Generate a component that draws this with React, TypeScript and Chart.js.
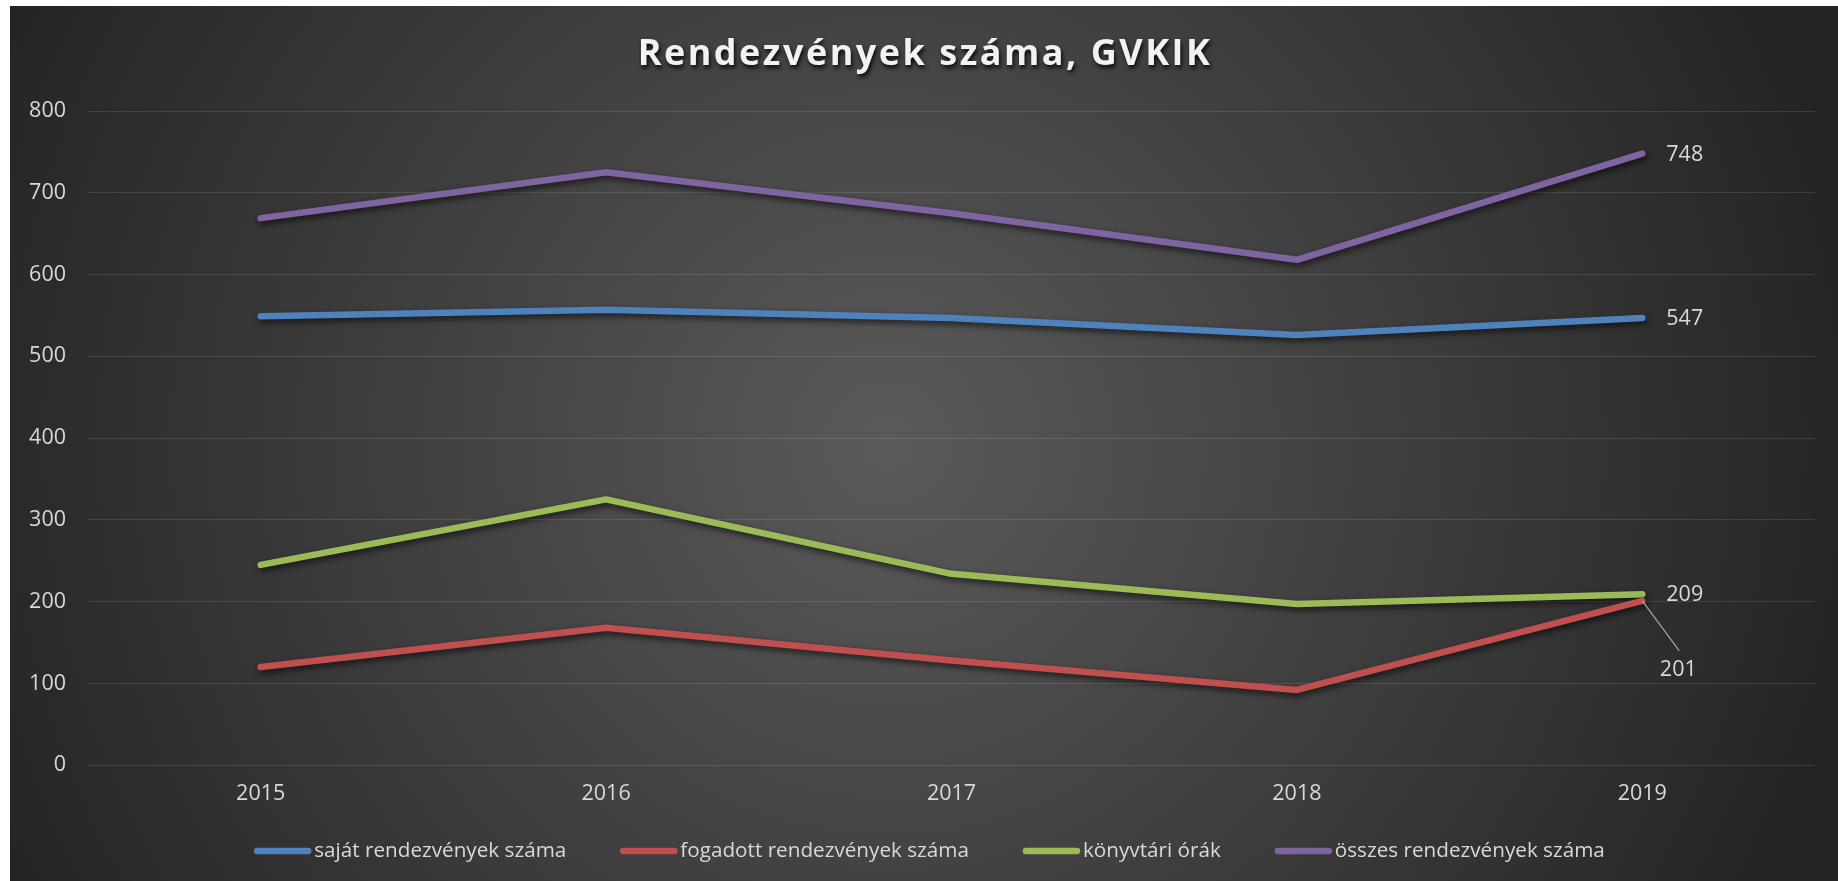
import React, { useEffect, useRef } from "react";
import { Chart, registerables } from "chart.js";

Chart.register(...registerables);

const titleText = "Rendezvények száma, GVKIK";
const categories = ["2015", "2016", "2017", "2018", "2019"];
const sajatRendezvenyek = [549, 557, 547, 526, 547];
const fogadottRendezvenyek = [120, 168, 128, 92, 201];
const konyvtariOrak = [245, 325, 234, 197, 209];
const osszesRendezvenyek = [669, 725, 675, 618, 748];
const seriesLabels = [
  "saját rendezvények száma",
  "fogadott rendezvények száma",
  "könyvtári órák",
  "összes rendezvények száma",
];
const seriesColors = ["#4F81BD", "#C0504D", "#9BBB59", "#8064A2"];
const yMin = 0;
const yMax = 800;
const yStep = 100;

const FONT = "'Open Sans', 'DejaVu Sans', sans-serif";
const TEXT_COLOR = "#d9d9d9";
const LABEL_SIZE = 21.5;
const LEGEND_SIZE = 20.7;

const backgroundPlugin = {
  id: "bgGradient",
  beforeDraw(chart: any) {
    const { ctx, width, height } = chart;
    ctx.save();
    const cx = width * 0.48;
    const cy = height / 2;
    const r = Math.sqrt(cx * cx + cy * cy);
    const g = ctx.createRadialGradient(cx, cy, 0, cx, cy, r);
    g.addColorStop(0, "#5a5a5a");
    g.addColorStop(1, "#242424");
    ctx.fillStyle = g;
    ctx.fillRect(0, 0, width, height);
    ctx.restore();
  },
};

const titlePlugin = {
  id: "customTitle",
  afterDraw(chart: any) {
    const { ctx, width } = chart;
    ctx.save();
    ctx.font = `bold 36px ${FONT}`;
    (ctx as any).letterSpacing = "2.5px";
    ctx.textAlign = "center";
    ctx.textBaseline = "middle";
    ctx.shadowColor = "rgba(0,0,0,0.85)";
    ctx.shadowBlur = 4;
    ctx.shadowOffsetX = 1.5;
    ctx.shadowOffsetY = 2.5;
    ctx.fillStyle = "#f2f2f2";
    ctx.fillText(titleText, width / 2 + 1, 49);
    ctx.restore();
  },
};

const shadowPlugin = {
  id: "lineShadow",
  beforeDatasetDraw(chart: any) {
    const ctx = chart.ctx;
    ctx.save();
    ctx.shadowColor = "rgba(0,0,0,0.65)";
    ctx.shadowBlur = 6;
    ctx.shadowOffsetX = 1.5;
    ctx.shadowOffsetY = 3;
  },
  afterDatasetDraw(chart: any) {
    chart.ctx.restore();
  },
};

const valueLabelPlugin = {
  id: "lastValueLabels",
  afterDatasetsDraw(chart: any) {
    const ctx = chart.ctx;
    ctx.save();
    ctx.font = `${LABEL_SIZE}px ${FONT}`;
    ctx.fillStyle = TEXT_COLOR;
    ctx.textBaseline = "middle";
    chart.data.datasets.forEach((ds: any, i: number) => {
      const meta = chart.getDatasetMeta(i);
      const last = meta.data.length - 1;
      const pt = meta.data[last];
      const value = String(ds.data[last]);
      if (i === 1) {
        ctx.strokeStyle = "#a6a6a6";
        ctx.lineWidth = 1.2;
        ctx.beginPath();
        ctx.moveTo(pt.x, pt.y);
        ctx.lineTo(pt.x + 37, pt.y + 50);
        ctx.stroke();
        ctx.textAlign = "center";
        ctx.fillText(value, pt.x + 36, pt.y + 69);
      } else {
        ctx.textAlign = "left";
        ctx.fillText(value, pt.x + 24, pt.y + 1);
      }
    });
    ctx.restore();
  },
};

const legendPlugin = {
  id: "customLegend",
  afterDraw(chart: any) {
    const { ctx, width } = chart;
    ctx.save();
    ctx.font = `${LEGEND_SIZE}px ${FONT}`;
    const lineLen = 57;
    const textGap = 3;
    const itemGap = 54;
    const items = chart.data.datasets.map((ds: any) => ({
      label: ds.label,
      color: ds.borderColor,
      w: ctx.measureText(ds.label).width,
    }));
    const total =
      items.reduce((s: number, it: any) => s + lineLen + textGap + it.w, 0) +
      itemGap * (items.length - 1);
    let x = width / 2 + 5.5 - total / 2;
    const y = 845;
    items.forEach((it: any) => {
      ctx.strokeStyle = it.color;
      ctx.lineWidth = 6.5;
      ctx.lineCap = "round";
      ctx.beginPath();
      ctx.moveTo(x + 3, y);
      ctx.lineTo(x + lineLen - 3, y);
      ctx.stroke();
      ctx.fillStyle = TEXT_COLOR;
      ctx.textAlign = "left";
      ctx.textBaseline = "middle";
      ctx.fillText(it.label, x + lineLen + textGap, y);
      x += lineLen + textGap + it.w + itemGap;
    });
    ctx.restore();
  },
};

export default function App() {
  const canvasRef = useRef<HTMLCanvasElement | null>(null);

  useEffect(() => {
    document.body.style.overflow = "hidden";
    const canvas = canvasRef.current;
    if (!canvas) return;
    const seriesData = [sajatRendezvenyek, fogadottRendezvenyek, konyvtariOrak, osszesRendezvenyek];
    const chart = new Chart(canvas, {
      type: "line",
      data: {
        labels: categories,
        datasets: seriesData.map((d, i) => ({
          label: seriesLabels[i],
          data: d,
          borderColor: seriesColors[i],
          backgroundColor: seriesColors[i],
          borderWidth: 6.5,
          borderCapStyle: "round",
          borderJoinStyle: "round",
          pointRadius: 0,
          pointHoverRadius: 0,
          tension: 0,
          fill: false,
        })),
      },
      options: {
        animation: false,
        responsive: true,
        maintainAspectRatio: false,
        events: [],
        layout: { padding: { top: 105, left: 0, right: 23, bottom: 58 } },
        plugins: {
          legend: { display: false },
          title: { display: false },
          tooltip: { enabled: false },
        },
        scales: {
          x: {
            offset: true,
            grid: { display: false, drawTicks: false },
            border: { display: false },
            ticks: {
              color: TEXT_COLOR,
              font: { family: FONT, size: LABEL_SIZE },
              padding: 16,
              maxRotation: 0,
            },
          },
          y: {
            min: yMin,
            max: yMax,
            grid: { color: "rgba(255,255,255,0.11)", lineWidth: 1, drawTicks: false },
            border: { display: false },
            ticks: {
              stepSize: yStep,
              color: TEXT_COLOR,
              font: { family: FONT, size: LABEL_SIZE },
              padding: 22,
            },
            afterFit(scale: any) {
              scale.width = 78;
            },
          },
        },
      },
      plugins: [backgroundPlugin, shadowPlugin, valueLabelPlugin, titlePlugin, legendPlugin],
    } as any);
    return () => chart.destroy();
  }, []);

  return (
    <div
      style={{
        position: "fixed",
        left: 10,
        top: 6,
        width: 1828,
        height: 875,
      }}
    >
      <canvas ref={canvasRef} />
    </div>
  );
}
